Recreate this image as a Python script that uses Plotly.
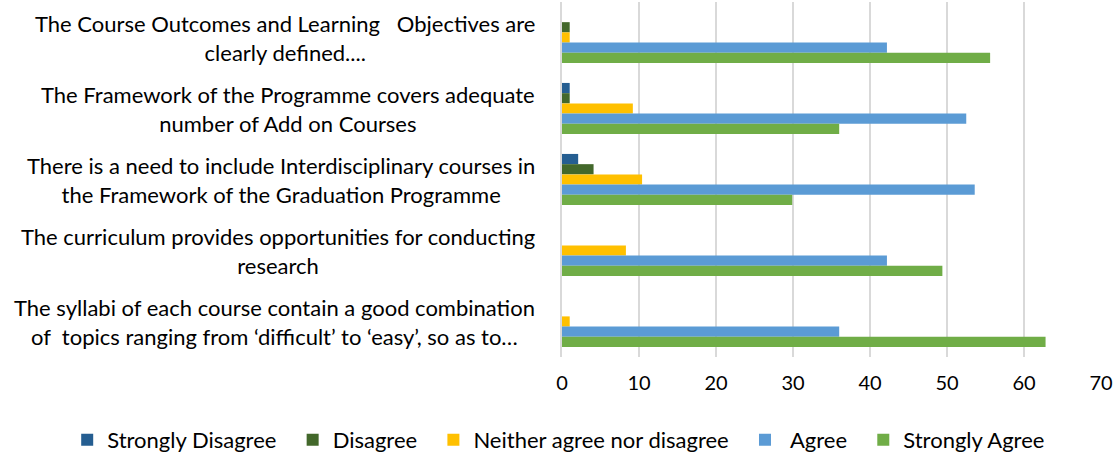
import plotly.graph_objects as go

# Survey statements, top to bottom
statements = [
    'The Course Outcomes and Learning\u00a0\u00a0 Objectives are<br>clearly defined....',
    'The Framework of the Programme covers adequate<br>number of Add on Courses',
    'There is a need to include Interdisciplinary courses in<br>the Framework of the Graduation Programme',
    'The curriculum provides opportunities for conducting<br>research',
    'The syllabi of each course contain a good combination<br>of\u00a0 topics ranging from \u2018difficult\u2019 to \u2018easy\u2019, so as to\u2026',
]
categories = ['Q1', 'Q2', 'Q3', 'Q4', 'Q5']

strongly_disagree = [0, 1, 2.1, 0, 0]
disagree = [1, 1, 4.1, 0, 0]
neither = [1, 9.2, 10.4, 8.3, 1]
agree = [42.2, 52.5, 53.6, 42.2, 36]
strongly_agree = [55.6, 36, 29.9, 49.4, 62.8]

series = [
    ('Strongly Disagree', strongly_disagree, '#255E91'),
    ('Disagree', disagree, '#43682B'),
    ('Neither agree nor disagree', neither, '#FFC000'),
    ('\u00a0Agree', agree, '#5B9BD5'),
    ('Strongly Agree', strongly_agree, '#70AD47'),
]

font_family = 'Lato, Open Sans, sans-serif'
pad = '\u00a0' * 2  # extra room between legend entries

fig = go.Figure()
for name, values, color in series:
    fig.add_trace(go.Bar(
        name=name + pad,
        y=categories, x=values,
        orientation='h',
        marker=dict(color=color, line=dict(width=0)),
    ))

fig.update_layout(
    width=1115, height=454,
    barmode='group',
    bargap=0.28,
    bargroupgap=0,
    plot_bgcolor='white',
    paper_bgcolor='white',
    margin=dict(l=562, r=14, t=2, b=97, autoexpand=False),
    font=dict(family=font_family, size=22, color='#000000'),
    legend=dict(
        orientation='h',
        x=-0.918, xanchor='left',
        y=-0.234, yanchor='middle',
        font=dict(size=22),
        traceorder='normal',
        itemwidth=30,
    ),
    showlegend=True,
)

fig.update_xaxes(
    range=[0, 70],
    dtick=10,
    showgrid=True,
    gridcolor='#D9D9D9',
    gridwidth=1.5,
    zeroline=False,
    showline=False,
    ticks='',
    tickfont=dict(size=20),
    ticklabelstandoff=12,
)
fig.update_yaxes(
    autorange='reversed',
    showticklabels=False,
    showgrid=False,
    showline=True,
    linecolor='#D9D9D9',
    linewidth=1.5,
    ticks='',
)

# Category labels: centred lines, right edge near the axis
for cat, text in zip(categories, statements):
    fig.add_annotation(
        xref='paper', x=-0.046, xanchor='right',
        yref='y', y=cat, yanchor='middle',
        text=text, align='center',
        showarrow=False,
        font=dict(size=22),
    )

# page body has a default margin; drop it so the figure fills the window
fig.write_html('out.html', config={'displayModeBar': False},
               post_script="document.body.style.margin='0';")
